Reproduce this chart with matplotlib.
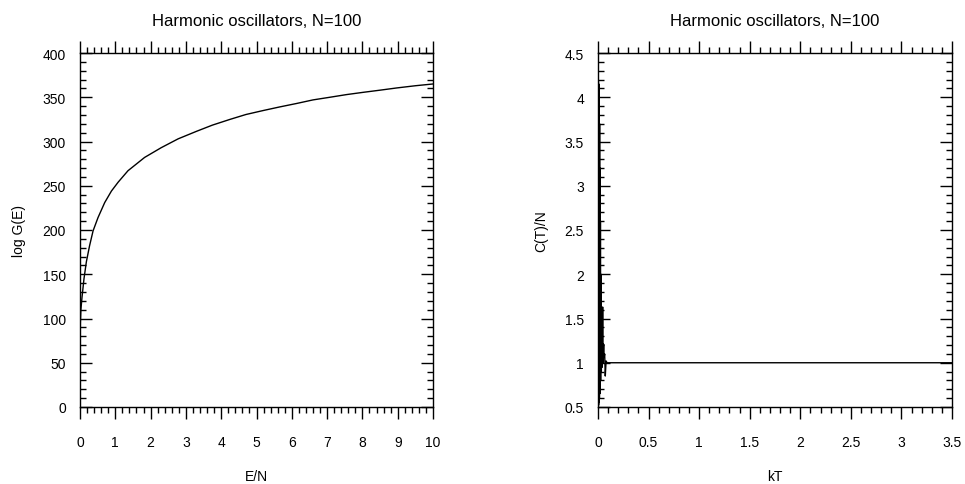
import matplotlib
matplotlib.use("Agg")
import matplotlib.pyplot as plt
from matplotlib.ticker import MultipleLocator

plt.rcParams["font.family"] = ["Liberation Sans", "DejaVu Sans"]
plt.rcParams["font.size"] = 10

title = "Harmonic oscillators, N=100"

# left panel: log G(E) vs E/N
e_per_n = [0.0, 0.004, 0.01, 0.025, 0.057, 0.113, 0.18, 0.27, 0.37, 0.51,
           0.70, 0.89, 1.08, 1.36, 1.83, 2.30, 2.78, 3.30, 3.75, 4.25,
           4.70, 5.19, 5.65, 6.14, 6.60, 7.08, 7.55, 8.03, 8.50, 8.97,
           9.50, 10.0]
log_g = [0.0, 60, 95, 110, 124, 145, 164, 182, 199, 214,
         231, 244, 254, 267, 282, 293, 303, 311.5, 318.5, 325,
         330.5, 335, 339, 343, 347, 350, 353, 355.6, 358, 360.5,
         363, 365]

# right panel: C(T)/N vs kT
kt = [0.002, 0.004, 0.006, 0.008, 0.010, 0.012, 0.014, 0.016, 0.018,
      0.020, 0.022, 0.024, 0.026, 0.029, 0.033, 0.037, 0.042, 0.046,
      0.050, 0.056, 0.060, 0.066, 0.072, 0.080, 0.09, 0.2, 0.5, 1.0,
      1.5, 2.0, 2.5, 3.0, 3.5]
c_per_n = [0.5, 4.18, 0.52, 4.15, 0.55, 4.0, 0.6, 3.7, 0.65,
           3.2, 0.7, 2.6, 0.8, 2.0, 0.9, 1.4, 0.95, 1.63,
           1.0, 1.21, 1.06, 1.1, 0.85, 1.02, 1.0, 1.0, 1.0, 1.0,
           1.0, 1.0, 1.0, 1.0, 1.0]


def style_axes(ax, xmajor, xminor, ymajor, yminor):
    ax.xaxis.set_major_locator(MultipleLocator(xmajor))
    ax.xaxis.set_minor_locator(MultipleLocator(xminor))
    ax.yaxis.set_major_locator(MultipleLocator(ymajor))
    ax.yaxis.set_minor_locator(MultipleLocator(yminor))
    ax.tick_params(axis="x", which="both", direction="out", top=True,
                   bottom=True, width=1, pad=12)
    ax.tick_params(axis="y", which="both", direction="in", left=True,
                   right=True, width=1, pad=10)
    ax.tick_params(which="major", length=8.5)
    ax.tick_params(which="minor", length=4)
    for s in ax.spines.values():
        s.set_linewidth(1)


fig = plt.figure(figsize=(9.65, 4.85), dpi=100)
W, H = 965, 485

ax1 = fig.add_axes([80 / W, (H - 408) / H, 353 / W, 354 / H])
ax1.plot(e_per_n, log_g, color="black", lw=1)
ax1.set_xlim(0, 10)
ax1.set_ylim(0, 400)
style_axes(ax1, 1, 0.2, 50, 10)
ax1.set_title(title, pad=20)
ax1.set_xlabel("E/N", labelpad=14)
ax1.set_ylabel("log G(E)", labelpad=12)

ax2 = fig.add_axes([598 / W, (H - 408) / H, 354 / W, 354 / H])
ax2.plot(kt, c_per_n, color="black", lw=1)
ax2.set_xlim(0, 3.5)
ax2.set_ylim(0.5, 4.5)
style_axes(ax2, 0.5, 0.1, 0.5, 0.1)
ax2.xaxis.set_major_formatter(lambda v, p: f"{v:g}")
ax2.yaxis.set_major_formatter(lambda v, p: f"{v:g}")
ax2.set_title(title, pad=20)
ax2.set_xlabel("kT", labelpad=14)
ax2.set_ylabel("C(T)/N", labelpad=12)

fig.savefig("out.png", dpi=100)
